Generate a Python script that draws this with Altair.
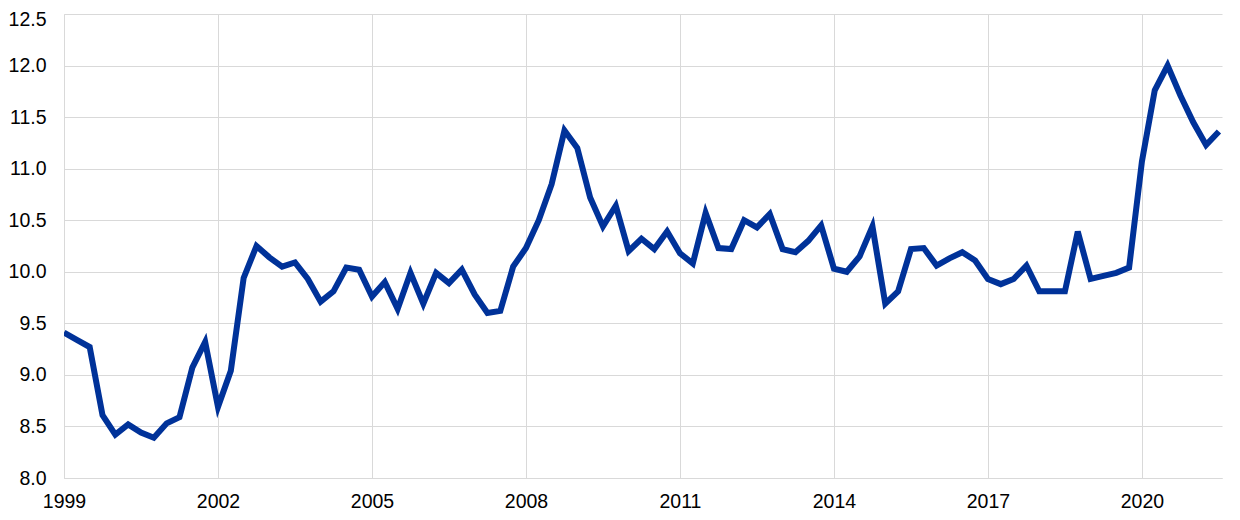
import altair as alt
import pandas as pd

# Quarterly values, 1999 Q1 to 2021 Q3
values = [
    9.41, 9.34, 9.27, 8.61, 8.42, 8.52, 8.44, 8.39, 8.53, 8.59,
    9.07, 9.32, 8.69, 9.04, 9.94, 10.25, 10.14, 10.05, 10.09, 9.93,
    9.71, 9.81, 10.04, 10.02, 9.76, 9.90, 9.64, 9.99, 9.69, 9.99,
    9.89, 10.02, 9.78, 9.60, 9.62, 10.05, 10.23, 10.50, 10.85, 11.37,
    11.20, 10.72, 10.44, 10.64, 10.20, 10.32, 10.22, 10.39, 10.18, 10.08,
    10.57, 10.23, 10.22, 10.50, 10.43, 10.56, 10.22, 10.19, 10.30, 10.45,
    10.03, 10.00, 10.15, 10.44, 9.69, 9.81, 10.22, 10.23, 10.06, 10.13,
    10.19, 10.11, 9.93, 9.88, 9.93, 10.06, 9.81, 9.81, 9.81, 10.39,
    9.93, 9.96, 9.99, 10.04, 11.07, 11.76, 12.00, 11.71, 11.45, 11.23,
    11.36,
]
start_year = 1999
periods = [start_year + i / 4 for i in range(len(values))]

x_ticks = [1999, 2002, 2005, 2008, 2011, 2014, 2017, 2020]
y_ticks = [8.0, 8.5, 9.0, 9.5, 10.0, 10.5, 11.0, 11.5, 12.0, 12.5]

df = pd.DataFrame({"period": periods, "value": values})

font = "Liberation Sans"
grid = "#d9d9d9"

chart = alt.Chart(df).mark_line(
    color="#003299", strokeWidth=6, strokeJoin="miter", clip=True
).encode(
    x=alt.X(
        "period:Q",
        scale=alt.Scale(domain=[1999, 2021.56], nice=False, zero=False),
        axis=alt.Axis(
            values=x_ticks, format="d", title=None, grid=True,
            gridColor=grid, domainColor=grid, ticks=False,
            labelFontSize=19.5, labelFont=font, labelColor="#000000",
            labelPadding=14, labelFlush=False,
        ),
    ),
    y=alt.Y(
        "value:Q",
        scale=alt.Scale(domain=[8.0, 12.5], nice=False, zero=False),
        axis=alt.Axis(
            values=y_ticks, format=".1f", title=None, grid=True,
            gridColor=grid, domainColor=grid, ticks=False,
            labelFontSize=19.5, labelFont=font, labelColor="#000000",
            labelPadding=18,
            labelOffset={"condition": {"test": "datum.value == 12.5", "value": 5}, "value": 0},
        ),
    ),
).properties(
    width=1158,
    height=464,
    autosize=alt.AutoSizeParams(type="none"),
    padding={"left": 56, "top": 6, "right": 10, "bottom": 42},
).configure_view(stroke=None).configure_axis(gridWidth=1, domainWidth=1)

chart.save("out.html", embed_options={"renderer": "svg", "actions": False})
